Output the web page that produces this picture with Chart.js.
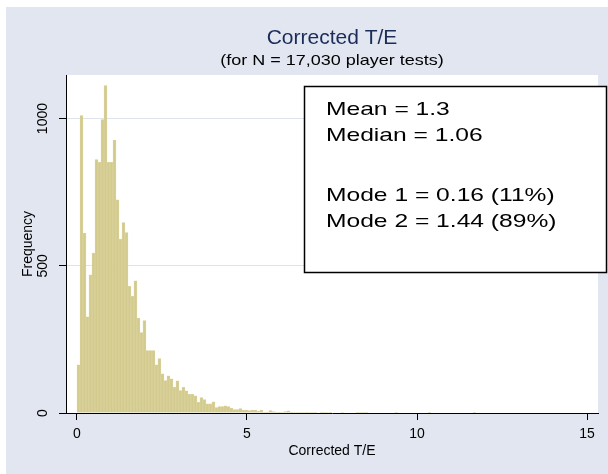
<!DOCTYPE html>
<html>
<head>
<meta charset="utf-8">
<script src="https://cdn.jsdelivr.net/npm/chart.js@4.4.1/dist/chart.umd.min.js"></script>
<style>
  body { margin: 0; background: #fff; }
  canvas { display: block; }
</style>
</head>
<body>
<canvas id="teChart" width="608" height="474"></canvas>
<script>
// histogram bins start at 0, each one binWidth wide
const binWidth = 0.0882;
const binCounts = [
  164, 1010, 611, 327, 469, 543, 861, 851, 997, 1112, 851, 851, 927, 724,
  591, 647, 613, 430, 396, 449, 322, 273, 314, 212, 212, 212, 164, 185, 133,
  110, 126, 116, 87, 109, 76, 87, 75, 63, 63, 58, 36, 52, 46, 31, 31, 38,
  18, 22, 22, 24, 22, 17, 12, 12, 15, 10, 10, 8, 10, 10, 6, 10, 2, 3, 8, 5,
  3, 3, 2, 5, 7, 3, 2, 2, 2, 2, 3, 2, 2, 1, 0, 3, 3, 2, 1, 0, 0, 0, 2, 0,
  0, 0, 0, 1, 2, 2, 1, 0, 0, 0, 0, 0, 0, 0, 0, 0, 1, 0, 0, 0, 0, 0, 0, 0,
  0, 0, 0, 1, 0, 0, 0, 0, 0, 0, 0, 0, 0, 0, 0, 0, 0, 0, 1
];
const xTickValues = [0, 5, 10, 15];
const yTickValues = [0, 500, 1000];

const titleText = 'Corrected T/E';
const subtitleText = '(for N = 17,030 player tests)';
const statLines = ['Mean = 1.3', 'Median = 1.06', 'Mode 1 = 0.16 (11%)', 'Mode 2 = 1.44 (89%)'];

const binCenters = binCounts.map((_, i) => (i + 0.5) * binWidth);

const FONT = '"Liberation Sans", Arial, sans-serif';

// text drawn a bit wider than the font, like the original graph
function wideText(ctx, text, x, y, sx, align) {
  ctx.save();
  ctx.translate(x, y);
  ctx.scale(sx, 1);
  ctx.textAlign = align;
  ctx.fillText(text, 0, 0);
  ctx.restore();
}

const backdrop = {
  id: 'backdrop',
  beforeDraw(chart) {
    const { ctx, chartArea: a } = chart;
    ctx.save();
    ctx.fillStyle = '#ffffff';
    ctx.fillRect(0, 0, chart.width, chart.height);
    ctx.fillStyle = '#e1e6f0';
    ctx.fillRect(6, 7, chart.width - 6, chart.height - 7);
    ctx.fillStyle = '#ffffff';
    ctx.fillRect(a.left, a.top, a.right - a.left, a.bottom - a.top);
    ctx.restore();
  }
};

const labels = {
  id: 'labels',
  afterDraw(chart) {
    const { ctx, chartArea: a } = chart;
    const cx = (a.left + a.right) / 2;
    ctx.save();
    ctx.textBaseline = 'alphabetic';

    ctx.fillStyle = '#1b2c58';
    ctx.font = '20px ' + FONT;
    wideText(ctx, titleText, cx, 44, 1.05, 'center');
    ctx.fillStyle = '#000';
    ctx.font = '15px ' + FONT;
    wideText(ctx, subtitleText, cx, 65, 1.2, 'center');

    // stats box
    ctx.fillStyle = '#fff';
    ctx.fillRect(304.5, 86.5, 302, 186);
    ctx.strokeStyle = '#000';
    ctx.lineWidth = 1.5;
    ctx.strokeRect(304.5, 86.5, 302, 186);

    ctx.fillStyle = '#000';
    ctx.font = '18.5px ' + FONT;
    const baselines = [114.5, 140.5, 200.5, 226.5];
    statLines.forEach((line, i) => wideText(ctx, line, 326, baselines[i], 1.33, 'left'));
    ctx.restore();
  }
};

new Chart(document.getElementById('teChart'), {
  type: 'bar',
  data: {
    datasets: [{
      data: binCenters.map((x, i) => ({ x: x, y: binCounts[i] })),
      backgroundColor: '#d3cb8e',
      borderColor: '#e0d9aa',
      borderWidth: 0.5,
      barPercentage: 1,
      categoryPercentage: 1
    }]
  },
  options: {
    responsive: false,
    animation: false,
    layout: { padding: { top: 75, right: 10, left: 0, bottom: 0 } },
    plugins: { legend: { display: false }, tooltip: { enabled: false } },
    scales: {
      x: {
        type: 'linear',
        min: -0.3235,
        max: 15.3235,
        offset: false,
        afterBuildTicks: s => { s.ticks = xTickValues.map(v => ({ value: v })); },
        afterFit: s => { s.height = 61; },
        grid: { offset: false, drawOnChartArea: false, drawTicks: true, tickLength: 7, tickColor: '#000' },
        border: { display: true, color: '#000', width: 1 },
        ticks: {
          color: '#000', font: { family: FONT, size: 14 }, padding: 6, maxRotation: 0,
          callback: v => String(v)
        },
        title: {
          display: true, text: 'Corrected T/E', color: '#000',
          font: { family: FONT, size: 14 }, padding: { top: 0, bottom: 14 }
        }
      },
      y: {
        min: 0,
        max: 1148,
        afterBuildTicks: s => { s.ticks = yTickValues.map(v => ({ value: v })); },
        afterFit: s => { s.width = 66; },
        grid: { color: '#dfe3ee', tickColor: '#000', tickLength: 7, lineWidth: 1 },
        border: { display: true, color: '#000', width: 1 },
        ticks: {
          color: '#000', font: { family: FONT, size: 14 }, padding: 0,
          minRotation: 90, maxRotation: 90, crossAlign: 'center',
          callback: v => String(v)
        },
        title: {
          display: true, text: 'Frequency', color: '#000',
          font: { family: FONT, size: 14 }, padding: { top: 20, bottom: 0 }
        }
      }
    }
  },
  plugins: [backdrop, labels]
});
</script>
</body>
</html>
